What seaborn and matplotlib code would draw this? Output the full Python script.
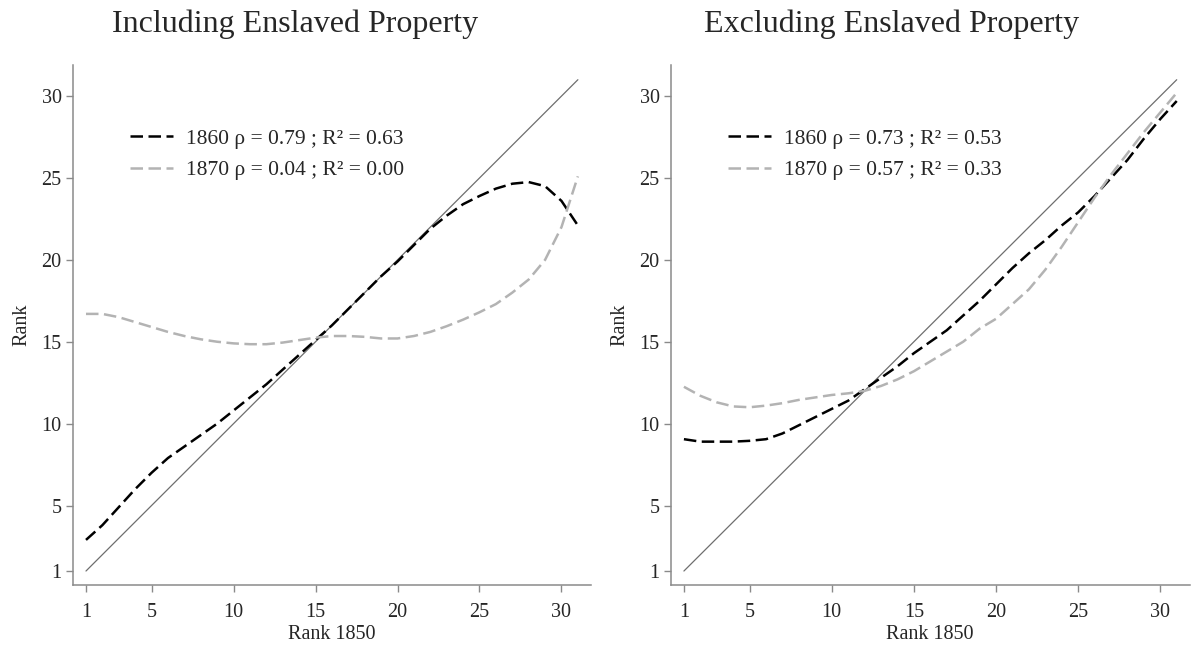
import numpy as np
import matplotlib
matplotlib.use("Agg")
import matplotlib.pyplot as plt
import seaborn as sns
import pandas as pd

# ranks in 1850 (x axis), 1..31
rank_1850 = list(range(1, 32))

# smoothed rank in later years
incl_1860 = [2.9, 3.8, 4.9, 6.0, 7.0, 7.9, 8.6, 9.3, 10.0, 10.8, 11.6, 12.4,
             13.3, 14.2, 15.1, 16.0, 17.0, 18.0, 19.0, 19.9, 20.9, 21.9,
             22.7, 23.4, 23.9, 24.35, 24.65, 24.75, 24.5, 23.6, 22.1]
incl_1870 = [16.7, 16.7, 16.5, 16.2, 15.9, 15.6, 15.35, 15.15, 15.0, 14.9,
             14.85, 14.85, 14.95, 15.1, 15.25, 15.35, 15.35, 15.3, 15.2, 15.2,
             15.35, 15.6, 15.95, 16.35, 16.8, 17.3, 18.0, 18.8, 20.0, 22.0, 25.1]
excl_1860 = [9.05, 8.9, 8.9, 8.9, 8.95, 9.05, 9.4, 9.9, 10.4, 10.9, 11.4,
             12.1, 12.8, 13.5, 14.3, 15.0, 15.7, 16.6, 17.5, 18.5, 19.5,
             20.4, 21.2, 22.1, 22.9, 23.9, 25.0, 26.1, 27.4, 28.6, 29.7]
excl_1870 = [12.25, 11.7, 11.3, 11.05, 11.0, 11.1, 11.25, 11.45, 11.6, 11.75,
             11.85, 12.0, 12.3, 12.7, 13.2, 13.8, 14.4, 15.0, 15.8, 16.4,
             17.3, 18.2, 19.4, 20.8, 22.3, 23.8, 25.2, 26.5, 27.8, 29.0, 30.2]

diag = [1, 31]
ticks = [1, 5, 10, 15, 20, 25, 30]

panels = [
    ("Including Enslaved Property", incl_1860, incl_1870,
     ["1860 ρ = 0.79 ; R² = 0.63", "1870 ρ = 0.04 ; R² = 0.00"]),
    ("Excluding Enslaved Property", excl_1860, excl_1870,
     ["1860 ρ = 0.73 ; R² = 0.53", "1870 ρ = 0.57 ; R² = 0.33"]),
]

sns.set_style("ticks")
plt.rcParams["font.family"] = ["Liberation Serif", "DejaVu Serif"]

fig = plt.figure(figsize=(11.92, 6.46), dpi=100)
ax_pos = [[0.061, 0.0944, 0.4348, 0.805], [0.5626, 0.0944, 0.4356, 0.805]]
title_x = [0.2475, 0.748]

axis_col = "#8a8a8a"
dash = (0, (5.0, 2.2))

for i, (title, y60, y70, labels) in enumerate(panels):
    ax = fig.add_axes(ax_pos[i])
    sns.lineplot(x=diag, y=diag, ax=ax, color="#6e6e6e", linewidth=0.9)
    sns.lineplot(x=rank_1850, y=y60, ax=ax, color="black", linewidth=1.8,
                 linestyle=dash, label=labels[0])
    sns.lineplot(x=rank_1850, y=y70, ax=ax, color="#b3b3b3", linewidth=1.8,
                 linestyle=dash, label=labels[1])

    ax.set_xlim(0.19, 31.8)
    ax.set_ylim(0.145, 31.9)
    ax.set_xticks(ticks)
    ax.set_yticks(ticks)
    ax.tick_params(labelsize=14.5, length=5, width=1, color=axis_col)
    ax.tick_params(axis="x", pad=8)
    ax.tick_params(axis="y", pad=3)
    for s in ["top", "right"]:
        ax.spines[s].set_visible(False)
    for s in ["left", "bottom"]:
        ax.spines[s].set_color(axis_col)
        ax.spines[s].set_linewidth(1.1)

    ax.set_xlabel("Rank 1850", fontsize=14.5, labelpad=2)
    ax.set_ylabel("Rank", fontsize=14.5, labelpad=7)

    ax.legend(loc="upper left", bbox_to_anchor=(0.073, 0.915), frameon=False,
              fontsize=15.5, handlelength=2.0, handletextpad=0.6,
              labelspacing=0.53)

    fig.text(title_x[i], 0.963, title, ha="center", va="center", fontsize=23)

fig.savefig("out.png", dpi=100)
